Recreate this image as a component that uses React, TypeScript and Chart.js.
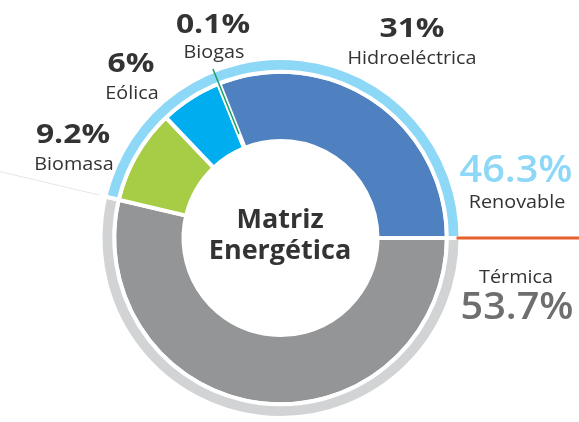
import React, { useEffect, useRef } from "react";
import { Chart, registerables } from "chart.js";

Chart.register(...registerables);

// Inner ring (clockwise from 3 o'clock)
const categories = ["Térmica", "Biomasa", "Eólica", "Biogas", "Hidroeléctrica"];
const shares = [53.7, 9.2, 6, 0.1, 31];
const shareLabels = ["53.7%", "9.2%", "6%", "0.1%", "31%"];
// Outer ring
const groupLabels = ["Térmica", "Renovable"];
const groupShares = [53.7, 46.3];
const groupShareLabels = ["53.7%", "46.3%"];
const centerTitle = ["Matriz", "Energética"];

const innerColors = ["#939597", "#a6cd45", "#00aeef", "#1aa064", "#4f80c0"];
const outerColors = ["#d1d3d4", "#8dd7f7"];

const FONT = "'Open Sans', 'Noto Sans', sans-serif";
const DARK = "#333333";

type Lbl = { text: string; x: number; y: number; size: number; weight: string; color: string; sx: number };

const labelLayout: Lbl[] = [
  { text: shareLabels[3], x: 213, y: 33, size: 27, weight: "bold", color: DARK, sx: 1.18 },
  { text: categories[3], x: 214, y: 58, size: 18, weight: "normal", color: DARK, sx: 1.1 },
  { text: shareLabels[2], x: 131, y: 72, size: 27, weight: "bold", color: DARK, sx: 1.18 },
  { text: categories[2], x: 132, y: 99, size: 18, weight: "normal", color: DARK, sx: 1.1 },
  { text: shareLabels[1], x: 73, y: 143, size: 27, weight: "bold", color: DARK, sx: 1.18 },
  { text: categories[1], x: 74, y: 170, size: 18, weight: "normal", color: DARK, sx: 1.1 },
  { text: shareLabels[4], x: 412, y: 37, size: 27, weight: "bold", color: DARK, sx: 1.18 },
  { text: categories[4], x: 412, y: 64, size: 18, weight: "normal", color: DARK, sx: 1.1 },
  { text: groupShareLabels[1], x: 516, y: 182, size: 37, weight: "600", color: "#8dd7f7", sx: 1.07 },
  { text: groupLabels[1], x: 517, y: 208, size: 18, weight: "normal", color: DARK, sx: 1.1 },
  { text: groupLabels[0], x: 516, y: 283, size: 18, weight: "normal", color: DARK, sx: 1.1 },
  { text: groupShareLabels[0], x: 517, y: 319, size: 37, weight: "600", color: "#6d6e70", sx: 1.07 },
  { text: centerTitle[0], x: 280, y: 228, size: 27, weight: "bold", color: DARK, sx: 1 },
  { text: centerTitle[1], x: 280, y: 259, size: 27, weight: "bold", color: DARK, sx: 1 },
];

const decorPlugin = {
  id: "decor",
  afterDatasetsDraw(chart: any) {
    const ctx = chart.ctx;
    const outer = chart.getDatasetMeta(0).data;
    const inner = chart.getDatasetMeta(1).data;
    ctx.save();
    // Biogas leader line
    const bg: any = inner[3];
    const p = bg.getProps(["x", "y", "startAngle", "endAngle", "innerRadius", "outerRadius"], true);
    const a = (p.startAngle + p.endAngle) / 2;
    const o0: any = outer[0].getProps(["outerRadius", "startAngle", "endAngle"], true);
    const r1 = p.innerRadius + 15;
    const r2 = o0.outerRadius + 2;
    ctx.strokeStyle = "#17a067";
    ctx.lineWidth = 1.5;
    ctx.beginPath();
    ctx.moveTo(p.x + Math.cos(a) * r1, p.y + Math.sin(a) * r1);
    ctx.lineTo(p.x + Math.cos(a) * r2, p.y + Math.sin(a) * r2);
    ctx.stroke();
    // Orange separator at group boundary (right)
    const a0 = o0.startAngle;
    ctx.strokeStyle = "#e8602c";
    ctx.lineWidth = 3;
    ctx.beginPath();
    ctx.moveTo(p.x + Math.cos(a0) * (o0.outerRadius - 4), p.y + Math.sin(a0) * (o0.outerRadius - 4));
    ctx.lineTo(chart.width, p.y + Math.sin(a0) * (o0.outerRadius - 4));
    ctx.stroke();
    // Faint separator at group boundary (left)
    const a1 = o0.endAngle;
    const rs = o0.outerRadius + 6;
    const sx = p.x + Math.cos(a1) * rs;
    const sy = p.y + Math.sin(a1) * rs;
    const t = sx / -Math.cos(a1);
    ctx.strokeStyle = "#e6e6e6";
    ctx.lineWidth = 1;
    ctx.beginPath();
    ctx.moveTo(sx, sy);
    ctx.lineTo(sx + Math.cos(a1) * t, sy + Math.sin(a1) * t);
    ctx.stroke();
    // Labels
    ctx.textAlign = "center";
    ctx.textBaseline = "alphabetic";
    for (const l of labelLayout) {
      ctx.save();
      ctx.font = `${l.weight} ${l.size}px ${FONT}`;
      ctx.fillStyle = l.color;
      ctx.translate(l.x, l.y);
      ctx.scale(l.sx, 1);
      ctx.fillText(l.text, 0, 0);
      ctx.restore();
    }
    ctx.restore();
  },
};

export default function App() {
  const ref = useRef<HTMLCanvasElement>(null);
  useEffect(() => {
    if (!ref.current) return;
    const chart = new Chart(ref.current, {
      type: "doughnut",
      data: {
        labels: categories,
        datasets: [
          {
            label: "Grupo",
            data: groupShares,
            backgroundColor: outerColors,
            borderColor: "#ffffff",
            borderWidth: 4,
            borderJoinStyle: "miter",
            weight: 14,
          } as any,
          {
            label: "Fuente",
            data: shares,
            backgroundColor: innerColors,
            borderColor: "#ffffff",
            borderWidth: 4,
            borderJoinStyle: "miter",
            weight: 71,
          } as any,
        ],
      },
      options: {
        responsive: false,
        animation: false,
        rotation: 90,
        cutout: 97,
        layout: { padding: { left: 98.5, right: 116.5, top: 56, bottom: 2 } },
        plugins: { legend: { display: false }, tooltip: { enabled: false } },
      } as any,
      plugins: [decorPlugin],
    });
    return () => chart.destroy();
  }, []);
  return (
    <div style={{ position: "absolute", left: 0, top: 0, width: 579, height: 422, background: "#fff" }}>
      <canvas ref={ref} width={579} height={422} style={{ width: 579, height: 422, display: "block" }} />
    </div>
  );
}
